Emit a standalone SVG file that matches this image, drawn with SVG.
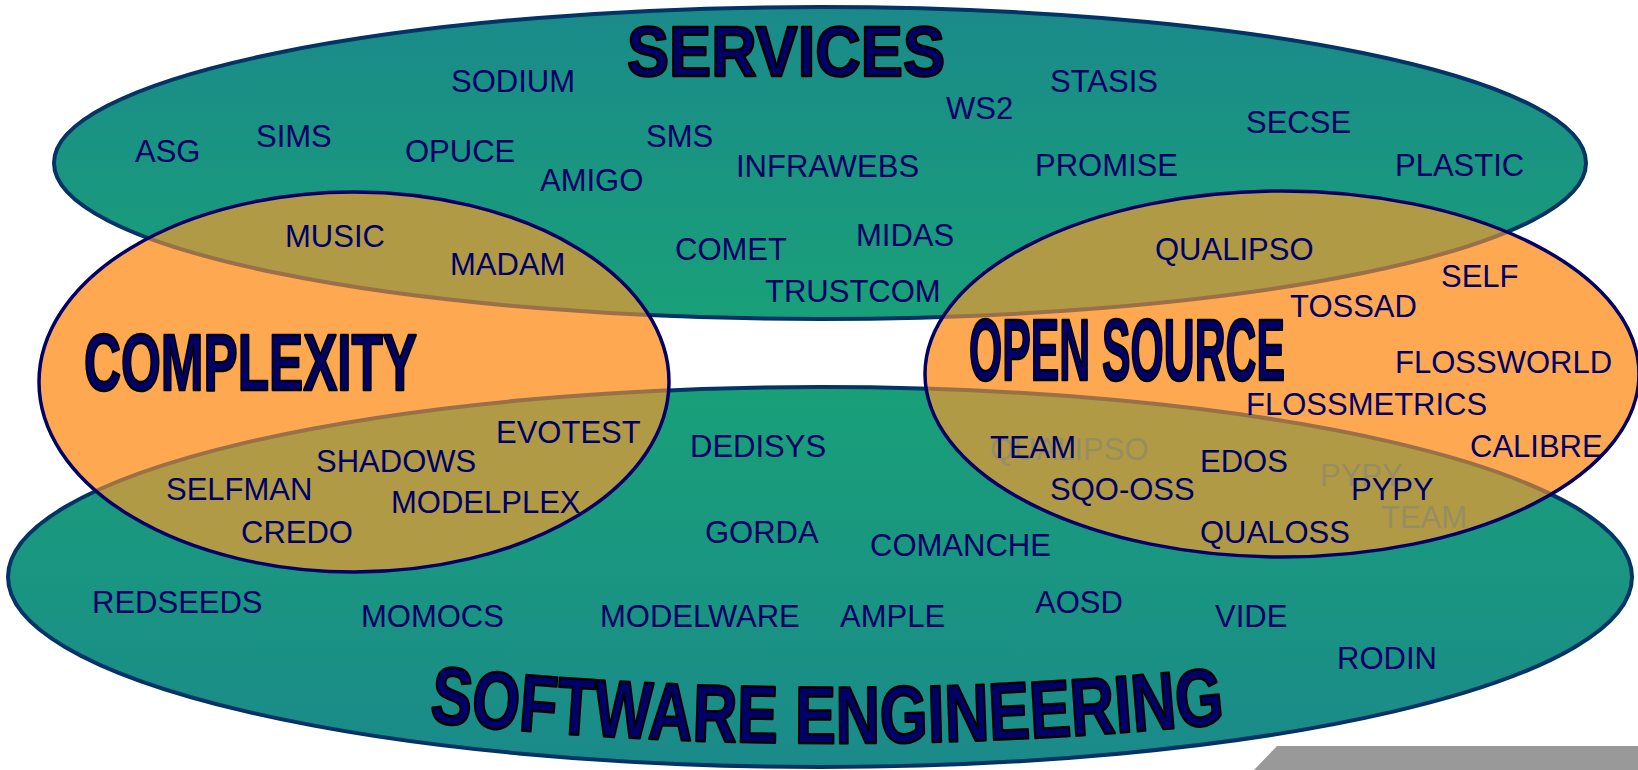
<svg xmlns="http://www.w3.org/2000/svg" xmlns:xlink="http://www.w3.org/1999/xlink" width="1638" height="770" viewBox="0 0 1638 770">
<defs>
<linearGradient id="gSvc" x1="0" y1="0" x2="0" y2="1"><stop offset="0" stop-color="#1A8A8A"/><stop offset="1" stop-color="#19A078"/></linearGradient>
<linearGradient id="gSe" x1="0" y1="0" x2="0" y2="1"><stop offset="0" stop-color="#19A078"/><stop offset="1" stop-color="#1A8A8A"/></linearGradient>
<ellipse id="eSvc" cx="820" cy="163" rx="766" ry="156"/>
<ellipse id="eSe" cx="820" cy="577" rx="812" ry="190"/>
<ellipse id="eCx" cx="354" cy="382" rx="315" ry="190"/>
<ellipse id="eOs" cx="1282" cy="374" rx="357" ry="183"/>
<clipPath id="cCx"><use xlink:href="#eCx"/></clipPath>
<clipPath id="cOs"><use xlink:href="#eOs"/></clipPath>
<path id="pSe" d="M 429 722 Q 828 764 1228 723"/>
</defs>
<style>
.lbl{font-family:"Liberation Sans",Arial,sans-serif;font-size:31px;fill:#000066}
.ghost{font-family:"Liberation Sans",Arial,sans-serif;font-size:31px;fill:#7f7f7f;fill-opacity:0.5}
.title{font-family:"Liberation Sans",Arial,sans-serif;font-weight:bold;fill:#000066;stroke:#000000;stroke-width:2.5;stroke-linejoin:round}
.teal{stroke:#003366;stroke-width:4}
.mix{fill:#B09A46;stroke:#9A7048;stroke-width:4}
.orange{fill:#FFA852}
.ring{fill:none;stroke:#000066;stroke-width:3.5}
</style>
<g id="services">
<use xlink:href="#eSvc" class="teal" fill="url(#gSvc)"/>
<text class="title" x="627" y="76" font-size="70" textLength="318" lengthAdjust="spacingAndGlyphs">SERVICES</text>
</g>
<g id="software-engineering">
<use xlink:href="#eSe" class="teal" fill="url(#gSe)"/>
<text class="title" font-size="81"><textPath xlink:href="#pSe" textLength="798" lengthAdjust="spacingAndGlyphs">SOFTWARE ENGINEERING</textPath></text>
</g>
<g id="complexity">
<use xlink:href="#eCx" class="orange"/>
<g clip-path="url(#cCx)">
<use xlink:href="#eSvc" class="mix"/>
<use xlink:href="#eSe" class="mix"/>
</g>
<use xlink:href="#eCx" class="ring"/>
<text class="title" x="84" y="390" font-size="80" textLength="333" lengthAdjust="spacingAndGlyphs">COMPLEXITY</text>
</g>
<g id="open-source">
<use xlink:href="#eOs" class="orange"/>
<g clip-path="url(#cOs)">
<use xlink:href="#eSvc" class="mix"/>
<use xlink:href="#eSe" class="mix"/>
</g>
<use xlink:href="#eOs" class="ring"/>
<text class="title" x="969" y="380" font-size="87" textLength="316" lengthAdjust="spacingAndGlyphs">OPEN SOURCE</text>
</g>
<g id="projects">
<text class="lbl" x="451" y="92">SODIUM</text>
<text class="lbl" x="256" y="147">SIMS</text>
<text class="lbl" x="135" y="162">ASG</text>
<text class="lbl" x="405" y="162">OPUCE</text>
<text class="lbl" x="540" y="191">AMIGO</text>
<text class="lbl" x="646" y="147">SMS</text>
<text class="lbl" x="736" y="177">INFRAWEBS</text>
<text class="lbl" x="946" y="119">WS2</text>
<text class="lbl" x="1050" y="92">STASIS</text>
<text class="lbl" x="1246" y="133">SECSE</text>
<text class="lbl" x="1035" y="176">PROMISE</text>
<text class="lbl" x="1395" y="176">PLASTIC</text>
<text class="lbl" x="675" y="260">COMET</text>
<text class="lbl" x="856" y="246">MIDAS</text>
<text class="lbl" x="765" y="302">TRUSTCOM</text>
<text class="lbl" x="285" y="247">MUSIC</text>
<text class="lbl" x="450" y="275">MADAM</text>
<text class="lbl" x="1155" y="260">QUALIPSO</text>
<text class="lbl" x="1441" y="287">SELF</text>
<text class="lbl" x="1290" y="317">TOSSAD</text>
<text class="lbl" x="1395" y="373">FLOSSWORLD</text>
<text class="lbl" x="1246" y="415">FLOSSMETRICS</text>
<text class="lbl" x="1470" y="457">CALIBRE</text>
<text class="ghost" x="990" y="460">QUALIPSO</text>
<text class="ghost" x="1320" y="486">PYPY</text>
<text class="ghost" x="1381" y="528">TEAM</text>
<text class="lbl" x="990" y="458">TEAM</text>
<text class="lbl" x="1200" y="472">EDOS</text>
<text class="lbl" x="1050" y="500">SQO-OSS</text>
<text class="lbl" x="1351" y="500">PYPY</text>
<text class="lbl" x="1200" y="543">QUALOSS</text>
<text class="lbl" x="496" y="443">EVOTEST</text>
<text class="lbl" x="316" y="472">SHADOWS</text>
<text class="lbl" x="166" y="500">SELFMAN</text>
<text class="lbl" x="391" y="513">MODELPLEX</text>
<text class="lbl" x="241" y="543">CREDO</text>
<text class="lbl" x="690" y="457">DEDISYS</text>
<text class="lbl" x="705" y="543">GORDA</text>
<text class="lbl" x="870" y="556">COMANCHE</text>
<text class="lbl" x="92" y="613">REDSEEDS</text>
<text class="lbl" x="361" y="627">MOMOCS</text>
<text class="lbl" x="600" y="627">MODELWARE</text>
<text class="lbl" x="840" y="627">AMPLE</text>
<text class="lbl" x="1035" y="613">AOSD</text>
<text class="lbl" x="1215" y="627">VIDE</text>
<text class="lbl" x="1337" y="669">RODIN</text>
</g>
<polygon points="1254,770 1277,746 1638,746 1638,770" fill="#999999"/>
</svg>
